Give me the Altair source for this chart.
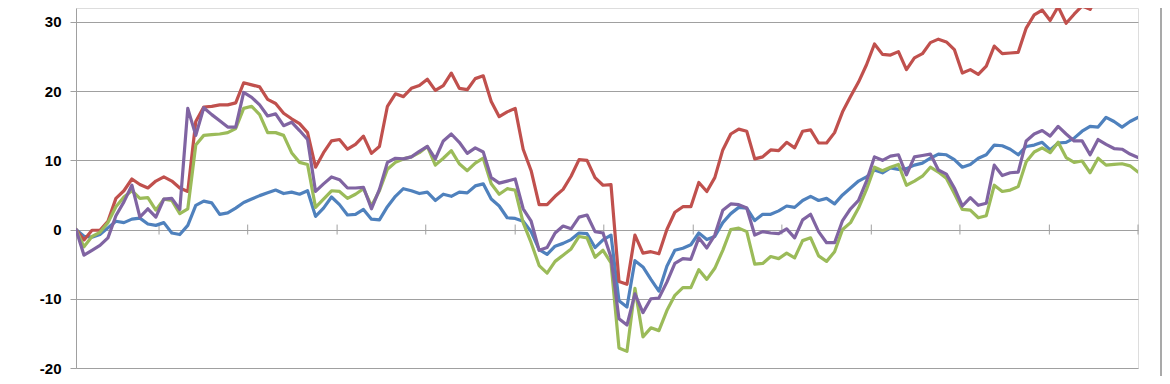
import altair as alt
import pandas as pd

# ---- data ----
series_names = ["Series 1", "Series 2", "Series 3", "Series 4"]
series_colors = ["#4F81BD", "#C0504D", "#9BBB59", "#8064A2"]

blue = [0, -0.97, -1.1, -0.7, 0.24, 1.2, 1.0, 1.5, 1.65, 0.8,
        0.6, 1.0, -0.5, -0.72, 0.6, 3.5, 4.1, 3.86, 2.2, 2.4,
        3.1, 3.9, 4.4, 4.9, 5.3, 5.7, 5.2, 5.4, 5.1, 5.6,
        1.9, 3.1, 4.7, 3.6, 2.1, 2.2, 2.9, 1.5, 1.4, 3.3,
        4.8, 5.9, 5.6, 5.2, 5.4, 4.2, 5.1, 4.8, 5.4, 5.3,
        6.3, 6.6, 4.4, 3.4, 1.7, 1.6, 1.2, -0.3, -2.9, -3.6,
        -2.4, -2.0, -1.45, -0.5, -0.6, -2.6, -1.5, -0.8, -10.3, -11.2,
        -4.5, -5.4, -7.2, -8.9, -5.3, -3.0, -2.7, -2.2, -0.5, -1.45,
        -1.0, 1.0, 2.3, 3.2, 3.1, 1.3, 2.2, 2.2, 2.7, 3.4,
        3.2, 4.2, 4.8, 4.2, 4.5, 3.7, 5.0, 6.0, 7.0, 7.6,
        8.6, 8.2, 8.9, 8.7, 8.8, 9.3, 9.6, 10.3, 10.9, 10.8,
        10.1, 9.0, 9.4, 10.3, 10.8, 12.2, 12.1, 11.6, 10.8, 12.0,
        12.2, 12.6, 11.5, 12.5, 12.6, 13.2, 14.2, 14.9, 14.8, 16.2,
        15.6, 14.8, 15.6, 16.2]

red = [0, -1.5, -0.1, -0.1, 1.2, 4.5, 5.6, 7.3, 6.5, 6.0,
       7.0, 7.6, 7.0, 6.0, 5.5, 15.6, 17.7, 17.8, 18.0, 18.0,
       18.3, 21.2, 20.9, 20.6, 18.8, 18.2, 16.8, 16.0, 15.3, 14.0,
       9.0, 11.1, 12.8, 13.0, 11.6, 12.3, 13.5, 11.0, 12.0, 17.8,
       19.6, 19.2, 20.4, 20.8, 21.7, 20.1, 20.8, 22.6, 20.4, 20.2,
       21.8, 22.2, 18.5, 16.3, 17.0, 17.5, 11.6, 8.5, 3.6, 3.6,
       4.8, 5.8, 7.7, 10.1, 10.0, 7.5, 6.4, 6.5, -7.5, -7.9,
       -0.8, -3.4, -3.2, -3.5, 0.0, 2.5, 3.3, 3.3, 6.8, 5.5,
       7.5, 11.5, 13.8, 14.5, 14.2, 10.2, 10.5, 11.5, 11.4, 12.6,
       11.8, 14.2, 14.4, 12.5, 12.5, 14.0, 17.0, 19.2, 21.3, 23.8,
       26.8, 25.3, 25.2, 25.7, 23.1, 24.8, 25.4, 27.0, 27.5, 27.1,
       26.0, 22.6, 23.1, 22.4, 23.6, 26.5, 25.4, 25.5, 25.6, 29.1,
       31.0, 31.7, 30.2, 32.2, 29.8, 31.1, 32.3, 31.8, 34.0, 34.8,
       32.9, 32.6, 33.4, 32.9]

green = [0, -2.5, -1.0, -0.4, 1.0, 3.3, 4.7, 5.6, 4.5, 4.6,
         2.8, 4.4, 4.2, 2.3, 3.0, 12.2, 13.6, 13.7, 13.8, 14.0,
         14.6, 17.5, 17.8, 16.6, 14.0, 14.0, 13.6, 11.1, 9.7, 9.4,
         3.2, 4.4, 5.6, 5.5, 4.5, 5.1, 5.9, 3.4, 5.6, 8.7,
         9.7, 10.2, 10.5, 11.1, 12.0, 9.3, 10.3, 11.4, 9.5, 8.5,
         9.6, 10.3, 6.6, 5.1, 5.9, 5.7, 1.0, -1.9, -5.2, -6.3,
         -4.6, -3.7, -2.8, -1.0, -1.2, -4.0, -3.0, -4.8, -17.1, -17.6,
         -8.5, -15.5, -14.2, -14.6, -11.7, -9.5, -8.4, -8.4, -5.8, -7.2,
         -5.6, -3.0, 0.0, 0.2, -0.3, -5.0, -4.9, -3.9, -4.2, -3.4,
         -4.1, -1.6, -1.2, -3.8, -4.6, -3.2, 0.0, 1.0, 3.1, 5.8,
         9.0, 8.5, 9.0, 9.4, 6.4, 7.0, 7.7, 9.0, 8.3, 7.4,
         5.2, 2.9, 2.8, 1.7, 2.0, 6.4, 5.5, 5.7, 6.2, 9.8,
         11.2, 11.8, 11.1, 12.6, 10.4, 9.7, 9.9, 8.2, 10.3, 9.3,
         9.4, 9.5, 9.2, 8.3]

purple = [0, -3.7, -3.0, -2.3, -1.2, 2.0, 4.0, 6.4, 1.8, 3.0,
          1.8, 4.4, 4.5, 2.9, 17.5, 13.6, 17.6, 16.6, 15.7, 14.8,
          14.8, 19.8, 19.1, 18.0, 16.4, 16.7, 15.0, 15.5, 14.3, 13.0,
          5.5, 6.6, 7.6, 7.2, 6.0, 6.0, 6.1, 3.0, 5.8, 9.7,
          10.3, 10.2, 10.5, 11.3, 12.0, 10.2, 12.8, 13.8, 12.6, 11.0,
          11.8, 11.2, 7.5, 6.7, 7.0, 7.3, 3.0, 1.2, -3.0, -2.6,
          -0.5, 0.5, 0.1, 1.8, 2.1, -0.3, -0.5, -4.0, -12.9, -13.8,
          -9.3, -12.0, -10.0, -9.9, -7.6, -4.9, -4.2, -4.3, -1.2, -2.66,
          -0.8, 2.8, 3.7, 3.6, 3.1, -0.8, -0.3, -0.5, -0.6, 0.1,
          -1.2, 1.4, 2.2, -0.3, -1.9, -1.9, 1.3, 3.0, 4.2, 7.0,
          10.5, 10.0, 10.6, 10.8, 7.9, 10.5, 10.7, 10.9, 8.6, 8.0,
          6.0, 3.4, 4.6, 3.5, 3.8, 9.3, 7.8, 8.2, 8.3, 12.8,
          13.8, 14.3, 13.5, 14.9, 13.8, 12.8, 12.8, 10.8, 13.0, 12.3,
          11.7, 11.6, 10.9, 10.4]

# positions (in observation index units) of the tick marks on the zero line
x_tick_positions = [10.4, 21.5, 32.7, 43.8, 55.0, 66.1, 77.3, 88.4, 99.6, 110.7, 121.9, 133.0]
y_tick_values = [-20, -10, 0, 10, 20, 30]

# ---- build tables ----
rows = []
for name, vals in zip(series_names, [blue, red, green, purple]):
    for i, v in enumerate(vals):
        rows.append({"t": i, "value": v, "series": name})
df = pd.DataFrame(rows)

ticks_df = pd.DataFrame({"t": x_tick_positions,
                         "lo": [-0.72] * len(x_tick_positions),
                         "hi": [0.72] * len(x_tick_positions)})

GRID = "#A0A0A0"
W, H = 1062, 360

xs = alt.Scale(domain=[0, len(blue) - 1], nice=False, zero=False)
ys = alt.Scale(domain=[-20, 32], nice=False, zero=False)

y_axis = alt.Axis(values=y_tick_values, grid=True, gridColor=GRID, gridWidth=1,
                  domainColor=GRID, domainWidth=1, tickColor=GRID, tickSize=6,
                  labelFont="Liberation Sans", labelFontSize=15,
                  labelFontWeight="bold", labelColor="#000000", labelPadding=9,
                  labelExpr="'' + datum.value",
                  title=None)

ticks = alt.Chart(ticks_df).mark_rule(color=GRID, strokeWidth=1).encode(
    x=alt.X("t:Q", scale=xs, axis=None),
    y=alt.Y("lo:Q", scale=ys, axis=y_axis),
    y2="hi:Q",
)

lines = alt.Chart(df).mark_line(strokeWidth=3.2, clip=True, strokeJoin="round",
                                strokeCap="round").encode(
    x=alt.X("t:Q", scale=xs, axis=None),
    y=alt.Y("value:Q", scale=ys, axis=y_axis),
    color=alt.Color("series:N", scale=alt.Scale(domain=series_names, range=series_colors),
                    legend=None),
)

border = alt.Chart(pd.DataFrame({"k": [0]})).mark_rule(color="#8C8C8C", strokeWidth=1.5).encode(
    x=alt.value(W + 23), y=alt.value(-1), y2=alt.value(H + 8)
)

chart = alt.layer(ticks, lines, border).properties(
    width=W, height=H,
    autosize=alt.AutoSizeParams(type="none"),
    padding={"left": 68, "top": 0, "right": 24, "bottom": 8},
).configure_view(stroke=None).configure(background="#FFFFFF")

chart.save("out.html", embed_options={"renderer": "svg", "actions": False})
